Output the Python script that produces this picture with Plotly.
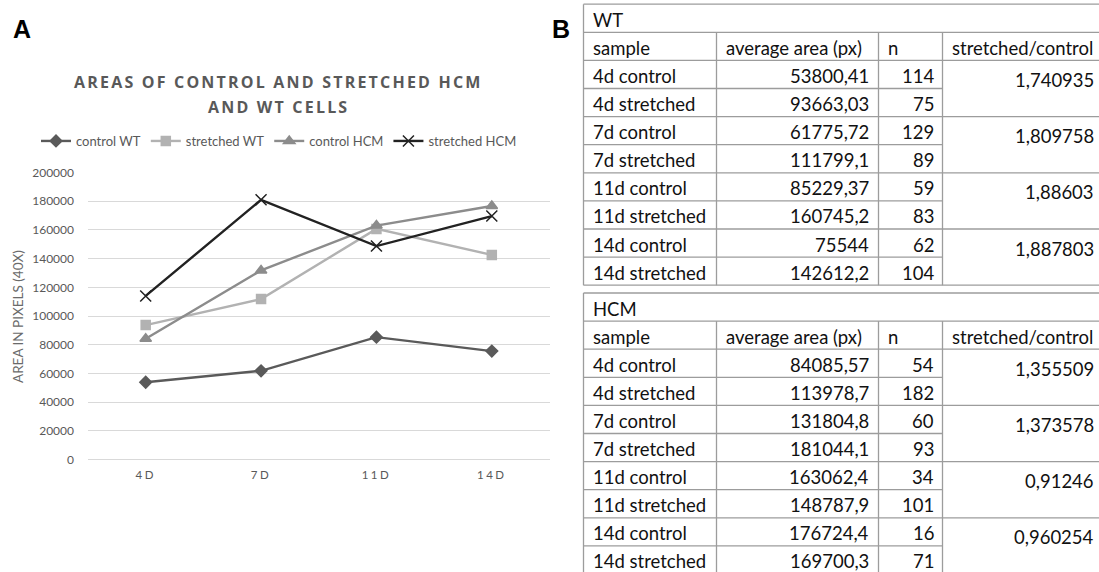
import plotly.graph_objects as go

# ---- data -------------------------------------------------------------
days = ["4D", "7D", "11D", "14D"]
day_names = ["4d", "7d", "11d", "14d"]

wt_control = [53800.41, 61775.72, 85229.37, 75544]
wt_stretched = [93663.03, 111799.1, 160745.2, 142612.2]
hcm_control = [84085.57, 131804.8, 163062.4, 176724.4]
hcm_stretched = [113978.7, 181044.1, 148787.9, 169700.3]

wt_n_control = [114, 129, 59, 62]
wt_n_stretched = [75, 89, 83, 104]
hcm_n_control = [54, 60, 34, 16]
hcm_n_stretched = [182, 93, 101, 71]

wt_ratio = [1.740935, 1.809758, 1.88603, 1.887803]
hcm_ratio = [1.355509, 1.373578, 0.91246, 0.960254]

y_ticks = list(range(0, 200001, 20000))
header_labels = ["sample", "average area (px)", "n", "stretched/control"]
title_lines = ["AREAS OF CONTROL AND STRETCHED HCM", "AND WT CELLS"]

# ---- page geometry ----------------------------------------------------
W, H = 1099, 572
GREY_TXT = "#595959"
GRID = "#d9d9d9"
CHART_FONT = "Lato"
TABLE_FONT = "Lato"


def fx(p):
    return p / W


def fy(p):
    return 1 - p / H


def spaced(s, px):
    return f'<span style="letter-spacing:{px}px">{s}</span>'


fig = go.Figure()

series = [
    ("control WT", wt_control, "#5a5a5a", "diamond", 9),
    ("stretched WT", wt_stretched, "#b2b2b2", "square", 9),
    ("control HCM", hcm_control, "#8c8c8c", "triangle-up", 10),
    ("stretched HCM", hcm_stretched, "#222222", "x-thin", 11),
]
for name, vals, col, sym, size in series:
    fig.add_trace(go.Scatter(
        x=days, y=vals, name=name, mode="lines+markers",
        line=dict(color=col, width=2.4),
        marker=dict(symbol=sym, size=size, color=col,
                    line=dict(color=col, width=1.5)),
        xaxis="x", yaxis="y",
    ))

# page-pixel axes spanning the whole figure, used to lay out the tables
fig.add_trace(go.Scatter(x=[0], y=[0], mode="markers", marker=dict(opacity=0),
                         showlegend=False, hoverinfo="skip",
                         xaxis="x2", yaxis="y2"))

shapes = []
annotations = []

col_edges = [583.5, 716.5, 878.5, 942.5, 1110]
ROW_H = 28.1
LINE = dict(color="#9c9c9c", width=1.3)


def hline(x0, x1, y):
    shapes.append(dict(type="line", xref="x2", yref="y2", x0=x0, x1=x1,
                       y0=y, y1=y, line=LINE))


def vline(x, y0, y1):
    shapes.append(dict(type="line", xref="x2", yref="y2", x0=x, x1=x,
                       y0=y0, y1=y1, line=LINE))


def text(x, y, s, anchor):
    annotations.append(dict(xref="x2", yref="y2", x=x, y=y, text=s,
                            showarrow=False, xanchor=anchor, yanchor="middle",
                            font=dict(family=TABLE_FONT, size=18.5, color="#111111")))


def fmt(v):
    return f"{v:.10g}".replace(".", ",")


def draw_table(top, title, ctrl, stretch, n_ctrl, n_stretch, ratio):
    bottom = top + 10 * ROW_H
    left, right = col_edges[0], col_edges[-1]
    hline(left, right, top)
    hline(left, right, top + ROW_H)
    hline(left, right, top + 2 * ROW_H)
    hline(left, right, bottom)
    vline(left, top, bottom)
    for ce in col_edges[1:4]:
        vline(ce, top + ROW_H, bottom)
    text(left + 7.5, top + ROW_H / 2 + 1.5, title, "left")
    for j, lab in enumerate(header_labels):
        text(col_edges[j] + 7.5, top + 1.5 * ROW_H + 1.5, lab, "left")
    for i, day in enumerate(day_names):
        r0 = top + (2 + 2 * i) * ROW_H
        if i > 0:
            hline(left, right, r0)
        hline(left, col_edges[3], r0 + ROW_H)
        rows = [(f"{day} control", ctrl[i], n_ctrl[i]),
                (f"{day} stretched", stretch[i], n_stretch[i])]
        for k, (lab, area, n) in enumerate(rows):
            yc = r0 + k * ROW_H + ROW_H / 2 + 1.5
            text(col_edges[0] + 7.5, yc, lab, "left")
            text(col_edges[2] - 8, yc, fmt(area), "right")
            text(col_edges[3] - 7, yc, str(n), "right")
        text(1096, r0 + 19.5, fmt(ratio[i]), "right")


draw_table(4.2, "WT", wt_control, wt_stretched, wt_n_control, wt_n_stretched, wt_ratio)
draw_table(293, "HCM", hcm_control, hcm_stretched, hcm_n_control, hcm_n_stretched, hcm_ratio)

# panel letters
for letter, x, y in [("A", 22, 29), ("B", 561, 29)]:
    annotations.append(dict(xref="x2", yref="y2", x=x, y=y, text=f"<b>{letter}</b>",
                            showarrow=False, xanchor="center", yanchor="middle",
                            font=dict(family="Liberation Sans", size=25, color="#000000")))

# y-axis title
annotations.append(dict(xref="x2", yref="y2", x=18, y=317,
                        text="AREA IN PIXELS (40X)", textangle=-90, showarrow=False,
                        xanchor="center", yanchor="middle",
                        font=dict(family=CHART_FONT, size=13.5, color="#6a6a6a")))

# chart title, two letter-spaced lines
for line_text, ty in zip(title_lines, [82, 107]):
    annotations.append(dict(xref="x2", yref="y2", x=278, y=ty,
                            text=spaced(f"<b>{line_text}</b>", 2.2),
                            showarrow=False, xanchor="center", yanchor="middle",
                            font=dict(family="Open Sans", size=16, color=GREY_TXT)))

fig.update_layout(
    width=W, height=H,
    margin=dict(l=0, r=0, t=0, b=0, autoexpand=False),
    paper_bgcolor="white", plot_bgcolor="rgba(0,0,0,0)",
    font=dict(family=CHART_FONT, color=GREY_TXT),
    xaxis=dict(domain=[fx(88), fx(549.5)], range=[-0.5, 3.5], type="category",
               tickvals=days, ticktext=[spaced(d, 2.5) for d in days],
               showgrid=False, showline=True, linecolor=GRID, linewidth=1,
               ticks="", ticklabelstandoff=5, automargin=False,
               tickfont=dict(family=CHART_FONT, size=11.5, color=GREY_TXT),
               anchor="y", fixedrange=True),
    yaxis=dict(domain=[fy(459.4), fy(172.6)], range=[0, 200000], tickvals=y_ticks,
               tickformat="d", showgrid=True, gridcolor=GRID, gridwidth=1,
               zeroline=False, showline=False, ticks="", ticklabelstandoff=13,
               automargin=False,
               tickfont=dict(family=CHART_FONT, size=12, color=GREY_TXT),
               anchor="x", fixedrange=True),
    xaxis2=dict(domain=[0, 1], range=[0, W], visible=False, anchor="y2",
                fixedrange=True, automargin=False),
    yaxis2=dict(domain=[0, 1], range=[H, 0], visible=False, anchor="x2",
                fixedrange=True, automargin=False),
    legend=dict(orientation="h", x=fx(279), xanchor="center", y=fy(141),
                yanchor="middle", font=dict(family=CHART_FONT, size=13, color=GREY_TXT),
                itemwidth=30, bgcolor="rgba(0,0,0,0)"),
    shapes=shapes,
    annotations=annotations,
    showlegend=True,
)

fig.write_html("out.html")
